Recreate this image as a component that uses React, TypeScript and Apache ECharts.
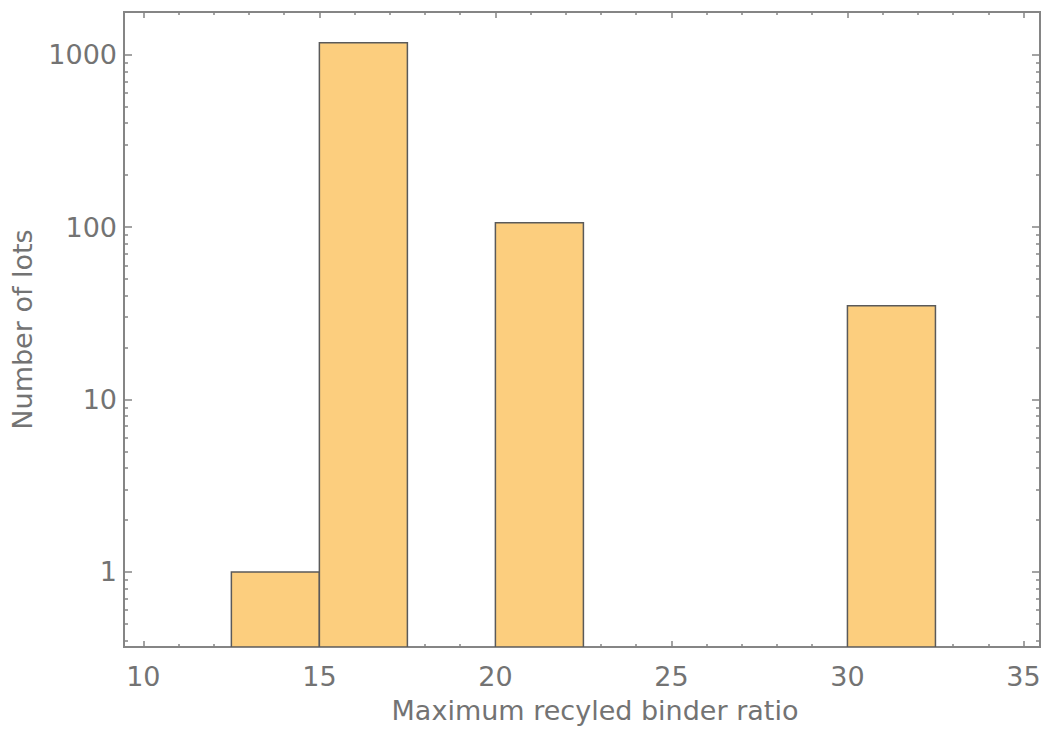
import React, { useEffect, useRef } from "react";
import * as echarts from "echarts";

// Histogram bins (lower edge, upper edge) and counts
const binStarts = [12.5, 15, 20, 30];
const binEnds = [15, 17.5, 22.5, 32.5];
const counts = [1, 1170, 106, 35];

const xMajorTicks = [10, 15, 20, 25, 30, 35];
const xMinorTicks = [11, 12, 13, 14, 16, 17, 18, 19, 21, 22, 23, 24, 26, 27, 28, 29, 31, 32, 33, 34];
const yMajorTicks = [1, 10, 100, 1000];
const yMinorTicks = [0.4, 0.5, 0.6, 0.7, 0.8, 0.9, 2, 3, 4, 5, 6, 7, 8, 9, 20, 30, 40, 50, 60, 70, 80, 90, 200, 300, 400, 500, 600, 700, 800, 900];

const xTitle = "Maximum recyled binder ratio";
const yTitle = "Number of lots";

const X_MIN = 9.45;
const X_MAX = 35.47;
const Y_MIN = 0.367;
const Y_MAX = 1765;

const FONT = "DejaVu Sans";
const TEXT = "#737373";
const FRAME = "#858585";

export default function App() {
  const ref = useRef<HTMLDivElement>(null);
  useEffect(() => {
    document.body.style.margin = "0";
    const chart = echarts.init(ref.current!, null, { renderer: "svg" });
    const lg = (v: number) => Math.log10(v);
    const yMin = lg(Y_MIN);
    const yMax = lg(Y_MAX);

    const xAxisBase = (pos: string, ticks: number[], len: number, showLabels: boolean, extra: any = {}) => ({
      type: "value",
      position: pos,
      min: X_MIN,
      max: X_MAX,
      axisLine: { show: false, onZero: false },
      splitLine: { show: false },
      axisTick: {
        show: true,
        inside: true,
        length: len,
        customValues: ticks,
        lineStyle: { color: FRAME, width: 1.5 },
      },
      axisLabel: showLabels
        ? {
            show: true,
            customValues: ticks,
            margin: 16,
            color: TEXT,
            fontFamily: FONT,
            fontSize: 27,
          }
        : { show: false },
      ...extra,
    });

    const yAxisBase = (pos: string, ticks: number[], len: number, showLabels: boolean, extra: any = {}) => ({
      type: "value",
      position: pos,
      min: yMin,
      max: yMax,
      axisLine: { show: false, onZero: false },
      splitLine: { show: false },
      axisTick: {
        show: true,
        inside: true,
        length: len,
        customValues: ticks.map(lg),
        lineStyle: { color: FRAME, width: 1.5 },
      },
      axisLabel: showLabels
        ? {
            show: true,
            customValues: ticks.map(lg),
            margin: 7,
            color: TEXT,
            fontFamily: FONT,
            fontSize: 27,
            formatter: (v: number) => String(Math.round(Math.pow(10, v))),
          }
        : { show: false },
      ...extra,
    });

    const data = binStarts.map((s, i) => [s, binEnds[i], counts[i]]);

    chart.setOption({
      animation: false,
      backgroundColor: "#ffffff",
      grid: {
        left: 124,
        right: 6,
        top: 12,
        bottom: 89,
        show: true,
        borderColor: FRAME,
        borderWidth: 2,
        backgroundColor: "transparent",
      },
      xAxis: [
        xAxisBase("bottom", xMajorTicks, 6, true, {
          name: xTitle,
          nameLocation: "middle",
          nameGap: 50,
          nameTextStyle: { color: TEXT, fontFamily: FONT, fontSize: 27, padding: [0, 0, 0, 26] },
        }),
        xAxisBase("bottom", xMinorTicks, 3, false),
        xAxisBase("top", xMajorTicks, 6, false),
        xAxisBase("top", xMinorTicks, 3, false),
      ],
      yAxis: [
        yAxisBase("left", yMajorTicks, 8, true, {
          name: yTitle,
          nameLocation: "middle",
          nameGap: 88,
          nameTextStyle: { color: TEXT, fontFamily: FONT, fontSize: 27 },
        }),
        yAxisBase("left", yMinorTicks, 4, false),
        yAxisBase("right", yMajorTicks, 8, false),
        yAxisBase("right", yMinorTicks, 4, false),
      ],
      series: [
        {
          type: "custom",
          xAxisIndex: 0,
          yAxisIndex: 0,
          data,
          clip: true,
          renderItem: (params: any, api: any) => {
            const x0 = api.value(0);
            const x1 = api.value(1);
            const c = api.value(2);
            const pTop = api.coord([x0, lg(c)]);
            const pBot = api.coord([x1, yMin]);
            return {
              type: "rect",
              shape: {
                x: pTop[0],
                y: pTop[1],
                width: pBot[0] - pTop[0],
                height: pBot[1] - pTop[1],
              },
              style: {
                fill: "#FCCE7E",
                stroke: "#5a5a5a",
                lineWidth: 1.5,
              },
            };
          },
        },
      ],
    });
    return () => chart.dispose();
  }, []);
  return <div ref={ref} style={{ width: 1046, height: 736 }} />;
}
